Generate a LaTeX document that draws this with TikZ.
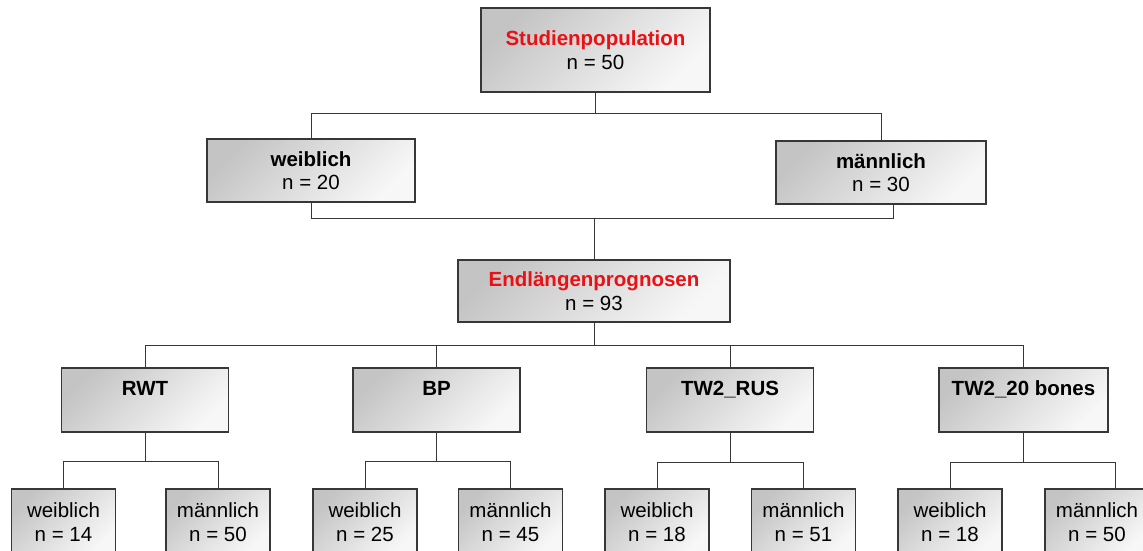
\documentclass[tikz,border=0pt]{standalone}
\usepackage{fontspec}
\setmainfont{Liberation Sans}
\definecolor{tred}{RGB}{232,18,22}
\definecolor{edge}{RGB}{55,55,55}
\begin{document}
\begin{tikzpicture}[x=1pt,y=-1pt,
  box/.style={draw=edge, line width=1.1pt, top color=black!23, bottom color=black!3,
    shading angle=45, align=center, inner sep=0pt, font=\fontsize{20.5}{23.5}\selectfont},
  lvl/.style={box, minimum width=167pt, minimum height=64pt},
  leaf/.style={box, minimum width=104pt, minimum height=66pt},
  conn/.style={draw=edge, line width=0.9pt}]
\clip (0,0) rectangle (1143,550);
\useasboundingbox (0,0) rectangle (1143,550);
\fill[white] (0,0) rectangle (1143,550);

% level 0
\node[box, minimum width=229pt, minimum height=84pt] (sp) at (595.5,50)
  {\textcolor{tred}{\textbf{Studienpopulation}}\\n = 50};
% level 1
\node[box, minimum width=208pt, minimum height=63pt] (w1) at (311,170.5)
  {\textbf{weiblich}\\n = 20};
\node[box, minimum width=210pt, minimum height=63pt] (m1) at (881,172.5)
  {\textbf{männlich}\\n = 30};
% level 2
\node[box, minimum width=272pt, minimum height=62pt] (el) at (594,291)
  {\textcolor{tred}{\textbf{Endlängenprognosen}}\\n = 93};
% level 3
\node[lvl] (rwt) at (145,400) {\textbf{RWT}\\\phantom{n}};
\node[lvl] (bp) at (436.5,400) {\textbf{BP}\\\phantom{n}};
\node[lvl] (rus) at (730,400) {\textbf{TW2\_RUS}\\\phantom{n}};
\node[lvl, minimum width=169pt] (tw) at (1023.5,400) {\textbf{TW2\_20 bones}\\\phantom{n}};
% leaves
\node[leaf] (rw) at (63.5,522) {weiblich\\n = 14};
\node[leaf] (rm) at (218,522) {männlich\\n = 50};
\node[leaf] (bw) at (365,522) {weiblich\\n = 25};
\node[leaf] (bm) at (510.5,522) {männlich\\n = 45};
\node[leaf] (uw) at (657,522) {weiblich\\n = 18};
\node[leaf] (um) at (803.5,522) {männlich\\n = 51};
\node[leaf] (tww) at (950,522) {weiblich\\n = 18};
\node[leaf] (twm) at (1097,522) {männlich\\n = 50};

% connectors
\coordinate (j1) at (595.5,113);
\draw[conn] (sp.south) -- (j1) -| (w1.north);
\draw[conn] (j1) -| (m1.north);
\coordinate (j2) at (594,218);
\draw[conn] (w1.south) |- (j2);
\draw[conn] ([xshift=12pt]m1.south) |- (j2);
\draw[conn] (j2) -- (el.north);
\coordinate (j3) at (594,345);
\draw[conn] (el.south) -- (j3);
\draw[conn] (j3) -| (rwt.north);
\draw[conn] (j3) -| (bp.north);
\draw[conn] (j3) -| (rus.north);
\draw[conn] (j3) -| (tw.north);

\draw[conn] (rwt.south) -- ++(0,29) coordinate (jr) -| (rw.north);
\draw[conn] (jr) -| (rm.north);
\draw[conn] (bp.south) -- ++(0,29) coordinate (jb) -| (bw.north);
\draw[conn] (jb) -| (bm.north);
\draw[conn] (rus.south) -- ++(0,30) coordinate (ju) -| (uw.north);
\draw[conn] (ju) -| (um.north);
\draw[conn] (tw.south) -- ++(0,30) coordinate (jt) -| (tww.north);
\draw[conn] (jt) -| ([xshift=18pt]twm.north);
\end{tikzpicture}
\end{document}
